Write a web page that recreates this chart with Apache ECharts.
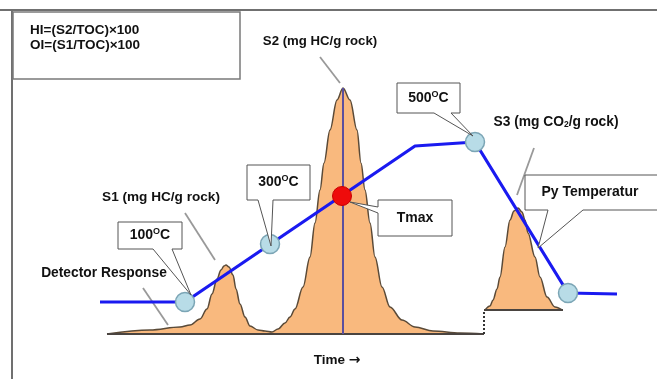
<!DOCTYPE html>
<html><head><meta charset="utf-8">
<script src="https://cdn.jsdelivr.net/npm/echarts@6/dist/echarts.min.js"></script>
<style>html,body{margin:0;padding:0;background:#fff}#c{width:657px;height:379px}</style>
</head><body><div id="c"></div>
<script>
// ---- Data (time in arbitrary units, detector response in arbitrary units) ----
const responseS1S2 = [[107,0],[150,4],[180,7],[190,9],[200,15],[207,25],[212,40],[217,55],[221,64],[224,68],[226,69],[229,67],[233,59],[236,45],[240,30],[245,17],[250,8],[258,4],[265,3],[272,2],[278,5],[285,11],[290,17],[295,25],[303,47],[310,77],[315,111],[320,144],[324,171],[330,204],[337,234],[343,246],[350,234],[357,204],[361,171],[365,144],[370,111],[375,77],[382,47],[390,27],[402,14],[415,7],[433,3],[460,1],[484,0]];
const responseS3 = [[485,24],[490,28],[493,34],[497,45],[500,57],[505,87],[510,114],[514,123],[518,126],[522,122],[525,114],[528,101],[535,77],[540,57],[547,37],[555,27],[562,24]];
const s3Base = 24;
const baseMain = [[107,0],[484,0]];
const baseS3 = [[484,24],[563,24]];
const s3Step = [[484,0],[484,24]];
const s2Apex = [[343,0],[343,246]];
const tempProgram = [[100,32],[185,32],[415,188],[475,192],[568,41],[617,40]];
const tempMarks = [[185,32],[270,90],[475,192],[568,41]];
const tmaxPoint = [[342,138]];
const formulaLines = ['HI=(S2/TOC)×100', 'OI=(S1/TOC)×100'];
const calloutTexts = ['100{o|O}C', '300{o|O}C', '500{o|O}C', 'Tmax', 'Py Temperatur'];
const peakLabels = ['S1 (mg HC/g rock)', 'S2 (mg HC/g rock)', 'S3 (mg CO{s|2}/g rock)', 'Detector Response'];
const axisLabel = 'Time {a|→}';

// ---- Annotation geometry (in data units) ----
const callouts = [
  {box:[118,112,182,85], outline:[[118,112],[182,112],[182,85],[172,85],[191,39],[153,85],[118,85]]},
  {box:[247,169,310,134], outline:[[247,169],[310,169],[310,134],[273,134],[271,88],[258,134],[247,134]]},
  {box:[397,251,460,221], outline:[[397,251],[460,251],[460,221],[451,221],[473,198],[434,221],[397,221]]},
  {box:[378,134,452,98], outline:[[378,134],[452,134],[452,98],[378,98],[378,121],[350,132],[378,127]]},
  {box:[525,159,665,124], outline:[[525,159],[665,159],[665,124],[583,124],[538,86],[548,124],[525,124]]}
];
const calloutSize = [14, 14, 14, 14, 14];
const labelPos = [[161,137],[320,293],[556,212],[104,61]];
const labelSize = [13.6, 13.2, 13.8, 13.8];
const pointers = [[[185,121],[215,74]],[[320,277],[340,251]],[[534,186],[517,139]],[[143,46],[168,9]]];
const frame = [[[0,324],[657,324]],[[12,324],[12,-45]]];
const formulaBox = [13,322,240,255];
const formulaRows = [304,288.5];
const FONT = '"Liberation Sans", Arial, sans-serif';

const chart = echarts.init(document.getElementById('c'), null, {renderer:'canvas'});
chart.setOption({
  animation:false,
  backgroundColor:'#fff',
  grid:{left:0,right:0,top:0,bottom:0},
  xAxis:{type:'value',min:0,max:657,show:false},
  yAxis:{type:'value',min:-45,max:334,show:false},
  series:[
    {type:'lines',coordinateSystem:'cartesian2d',silent:true,z:1,
     lineStyle:{color:'#707070',width:2,opacity:1},
     data:frame.map(c=>({coords:c}))},
    {type:'custom',z:2,silent:true,data:[[formulaBox[0],formulaBox[1]]],
     renderItem:function(params,api){
       const p1=api.coord([formulaBox[0],formulaBox[1]]), p2=api.coord([formulaBox[2],formulaBox[3]]);
       const kids=[{type:'rect',shape:{x:p1[0],y:p1[1],width:p2[0]-p1[0],height:p2[1]-p1[1]},style:{fill:'#fff',stroke:'#7a7a7a',lineWidth:1.5}}];
       formulaLines.forEach((t,i)=>{const q=api.coord([30,formulaRows[i]]);kids.push({type:'text',x:q[0],y:q[1],style:{text:t,fill:'#111',fontFamily:FONT,fontWeight:'bold',fontSize:13.5,align:'left',verticalAlign:'middle'}});});
       return {type:'group',children:kids};
     }},
    {type:'line',z:3,data:responseS1S2,smooth:0.35,smoothMonotone:'x',showSymbol:false,silent:true,
     lineStyle:{color:'#5a4a38',width:1.5},areaStyle:{color:'#f9b97e',opacity:1}},
    {type:'line',z:3,data:responseS3,smooth:0.35,smoothMonotone:'x',showSymbol:false,silent:true,
     lineStyle:{color:'#5a4a38',width:1.5},areaStyle:{color:'#f9b97e',opacity:1,origin:s3Base}},
    {type:'line',z:4,data:baseMain,showSymbol:false,silent:true,lineStyle:{color:'#4a4440',width:2}},
    {type:'line',z:4,data:baseS3,showSymbol:false,silent:true,lineStyle:{color:'#4a4440',width:2}},
    {type:'line',z:4,data:s3Step,showSymbol:false,silent:true,lineStyle:{color:'#333',width:2,type:'dotted'}},
    {type:'line',z:4,data:s2Apex,showSymbol:false,silent:true,lineStyle:{color:'#5b4f9e',width:2}},
    {type:'lines',coordinateSystem:'cartesian2d',silent:true,z:5,
     lineStyle:{color:'#999',width:1.8,opacity:1},
     data:pointers.map(c=>({coords:c}))},
    {type:'line',z:6,data:tempProgram,showSymbol:false,silent:true,lineStyle:{color:'#1a1af0',width:3.2}},
    {type:'scatter',z:7,data:tempMarks,symbolSize:19,silent:true,
     itemStyle:{color:'#b8dce7',borderColor:'#7ba5b5',borderWidth:1.5,opacity:1}},
    {type:'scatter',z:7,data:tmaxPoint,symbolSize:19,silent:true,
     itemStyle:{color:'#ee0b0b',borderColor:'#c80000',borderWidth:1,opacity:1}},
    {type:'custom',z:8,silent:true,data:callouts.map(c=>[c.box[0],c.box[1]]),
     renderItem:function(params,api){
       const c=callouts[params.dataIndex];
       const pts=c.outline.map(p=>api.coord(p));
       const ctr=api.coord([(c.box[0]+Math.min(c.box[2],657))/2+(c.box[2]>657?-1:0),(c.box[1]+c.box[3])/2]);
       return {type:'group',children:[
         {type:'polygon',shape:{points:pts},style:{fill:'#fff',stroke:'#555',lineWidth:1}},
         {type:'text',x:ctr[0],y:ctr[1],style:{text:calloutTexts[params.dataIndex],fill:'#111',fontFamily:FONT,fontWeight:'bold',fontSize:calloutSize[params.dataIndex],align:'center',verticalAlign:'middle',
           rich:{o:{fontSize:9,fontWeight:'bold',fontFamily:FONT,fill:'#111',verticalAlign:'top',padding:[0,0,7,0]}}}}
       ]};
     }},
    {type:'scatter',z:9,symbolSize:0,silent:true,itemStyle:{opacity:1},
     data:labelPos.map((p,i)=>({value:p,label:{show:true,position:'inside',formatter:peakLabels[i],fontSize:labelSize[i],fontWeight:'bold',fontFamily:FONT,color:'#111',
       rich:{s:{fontSize:8.5,fontWeight:'bold',fontFamily:FONT,color:'#111',padding:[6,0,0,0]}}}}))},
    {type:'scatter',z:9,symbolSize:0,silent:true,itemStyle:{opacity:1},
     data:[{value:[337,-26],label:{show:true,position:'inside',formatter:axisLabel,fontSize:13.5,fontWeight:'bold',fontFamily:FONT,color:'#111',
       rich:{a:{fontSize:14,fontWeight:'bold',fontFamily:'"DejaVu Sans", sans-serif',color:'#111'}}}}]}
  ]
});
</script></body></html>
